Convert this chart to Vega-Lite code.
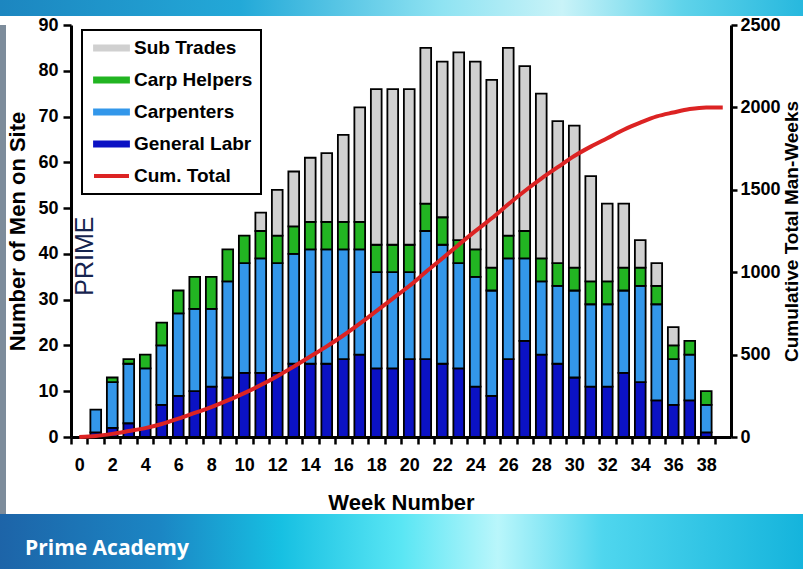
{
  "$schema": "https://vega.github.io/schema/vega-lite/v6.json",
  "padding": 0,
  "spacing": 0,
  "background": "white",
  "config": {
    "view": {"stroke": null},
    "font": "Liberation Sans",
    "axis": {
      "grid": false,
      "domainColor": "black",
      "domainWidth": 3,
      "tickColor": "black",
      "tickWidth": 2.5,
      "labelColor": "black",
      "labelFont": "Liberation Sans",
      "labelFontWeight": "bold",
      "labelFontSize": 18,
      "titleColor": "black",
      "titleFont": "Liberation Sans",
      "titleFontWeight": "bold",
      "titleFontSize": 22
    }
  },
  "vconcat": [
    {
      "width": 803,
      "height": 16,
      "data": {"values": [{"part": "top"}]},
      "mark": {
        "type": "rect",
        "fill": {
          "gradient": "linear",
          "x1": 0, "y1": 0, "x2": 1, "y2": 0,
          "stops": [
            {"offset": 0, "color": "#1c86c0"},
            {"offset": 0.3, "color": "#23a9d8"},
            {"offset": 0.55, "color": "#8fe3f2"},
            {"offset": 0.7, "color": "#c9f3f8"},
            {"offset": 0.85, "color": "#5fd3ea"},
            {"offset": 1, "color": "#27b8de"}
          ]
        }
      }
    },
    {
      "spacing": 0,
      "hconcat": [
        {
          "width": 6,
          "height": 489,
          "data": {"values": [{"part": "edge"}]},
          "mark": {"type": "rect", "fill": "#7d8c9b"}
        },
        {
          "width": 660,
          "height": 412,
          "resolve": {"scale": {"y": "independent"}},
          "layer": [
            {
              "data": {
                "values": [
                  {"week": 1, "trade": "General Labr", "men": 1},
                  {"week": 1, "trade": "Carpenters", "men": 5},
                  {"week": 2, "trade": "General Labr", "men": 2},
                  {"week": 2, "trade": "Carpenters", "men": 10},
                  {"week": 2, "trade": "Carp Helpers", "men": 1},
                  {"week": 3, "trade": "General Labr", "men": 3},
                  {"week": 3, "trade": "Carpenters", "men": 13},
                  {"week": 3, "trade": "Carp Helpers", "men": 1},
                  {"week": 4, "trade": "General Labr", "men": 2},
                  {"week": 4, "trade": "Carpenters", "men": 13},
                  {"week": 4, "trade": "Carp Helpers", "men": 3},
                  {"week": 5, "trade": "General Labr", "men": 7},
                  {"week": 5, "trade": "Carpenters", "men": 13},
                  {"week": 5, "trade": "Carp Helpers", "men": 5},
                  {"week": 6, "trade": "General Labr", "men": 9},
                  {"week": 6, "trade": "Carpenters", "men": 18},
                  {"week": 6, "trade": "Carp Helpers", "men": 5},
                  {"week": 7, "trade": "General Labr", "men": 10},
                  {"week": 7, "trade": "Carpenters", "men": 18},
                  {"week": 7, "trade": "Carp Helpers", "men": 7},
                  {"week": 8, "trade": "General Labr", "men": 11},
                  {"week": 8, "trade": "Carpenters", "men": 17},
                  {"week": 8, "trade": "Carp Helpers", "men": 7},
                  {"week": 9, "trade": "General Labr", "men": 13},
                  {"week": 9, "trade": "Carpenters", "men": 21},
                  {"week": 9, "trade": "Carp Helpers", "men": 7},
                  {"week": 10, "trade": "General Labr", "men": 14},
                  {"week": 10, "trade": "Carpenters", "men": 24},
                  {"week": 10, "trade": "Carp Helpers", "men": 6},
                  {"week": 11, "trade": "General Labr", "men": 14},
                  {"week": 11, "trade": "Carpenters", "men": 25},
                  {"week": 11, "trade": "Carp Helpers", "men": 6},
                  {"week": 11, "trade": "Sub Trades", "men": 4},
                  {"week": 12, "trade": "General Labr", "men": 14},
                  {"week": 12, "trade": "Carpenters", "men": 24},
                  {"week": 12, "trade": "Carp Helpers", "men": 6},
                  {"week": 12, "trade": "Sub Trades", "men": 10},
                  {"week": 13, "trade": "General Labr", "men": 16},
                  {"week": 13, "trade": "Carpenters", "men": 24},
                  {"week": 13, "trade": "Carp Helpers", "men": 6},
                  {"week": 13, "trade": "Sub Trades", "men": 12},
                  {"week": 14, "trade": "General Labr", "men": 16},
                  {"week": 14, "trade": "Carpenters", "men": 25},
                  {"week": 14, "trade": "Carp Helpers", "men": 6},
                  {"week": 14, "trade": "Sub Trades", "men": 14},
                  {"week": 15, "trade": "General Labr", "men": 16},
                  {"week": 15, "trade": "Carpenters", "men": 25},
                  {"week": 15, "trade": "Carp Helpers", "men": 6},
                  {"week": 15, "trade": "Sub Trades", "men": 15},
                  {"week": 16, "trade": "General Labr", "men": 17},
                  {"week": 16, "trade": "Carpenters", "men": 24},
                  {"week": 16, "trade": "Carp Helpers", "men": 6},
                  {"week": 16, "trade": "Sub Trades", "men": 19},
                  {"week": 17, "trade": "General Labr", "men": 18},
                  {"week": 17, "trade": "Carpenters", "men": 23},
                  {"week": 17, "trade": "Carp Helpers", "men": 6},
                  {"week": 17, "trade": "Sub Trades", "men": 25},
                  {"week": 18, "trade": "General Labr", "men": 15},
                  {"week": 18, "trade": "Carpenters", "men": 21},
                  {"week": 18, "trade": "Carp Helpers", "men": 6},
                  {"week": 18, "trade": "Sub Trades", "men": 34},
                  {"week": 19, "trade": "General Labr", "men": 15},
                  {"week": 19, "trade": "Carpenters", "men": 21},
                  {"week": 19, "trade": "Carp Helpers", "men": 6},
                  {"week": 19, "trade": "Sub Trades", "men": 34},
                  {"week": 20, "trade": "General Labr", "men": 17},
                  {"week": 20, "trade": "Carpenters", "men": 19},
                  {"week": 20, "trade": "Carp Helpers", "men": 6},
                  {"week": 20, "trade": "Sub Trades", "men": 34},
                  {"week": 21, "trade": "General Labr", "men": 17},
                  {"week": 21, "trade": "Carpenters", "men": 28},
                  {"week": 21, "trade": "Carp Helpers", "men": 6},
                  {"week": 21, "trade": "Sub Trades", "men": 34},
                  {"week": 22, "trade": "General Labr", "men": 16},
                  {"week": 22, "trade": "Carpenters", "men": 26},
                  {"week": 22, "trade": "Carp Helpers", "men": 6},
                  {"week": 22, "trade": "Sub Trades", "men": 34},
                  {"week": 23, "trade": "General Labr", "men": 15},
                  {"week": 23, "trade": "Carpenters", "men": 23},
                  {"week": 23, "trade": "Carp Helpers", "men": 5},
                  {"week": 23, "trade": "Sub Trades", "men": 41},
                  {"week": 24, "trade": "General Labr", "men": 11},
                  {"week": 24, "trade": "Carpenters", "men": 24},
                  {"week": 24, "trade": "Carp Helpers", "men": 6},
                  {"week": 24, "trade": "Sub Trades", "men": 41},
                  {"week": 25, "trade": "General Labr", "men": 9},
                  {"week": 25, "trade": "Carpenters", "men": 23},
                  {"week": 25, "trade": "Carp Helpers", "men": 5},
                  {"week": 25, "trade": "Sub Trades", "men": 41},
                  {"week": 26, "trade": "General Labr", "men": 17},
                  {"week": 26, "trade": "Carpenters", "men": 22},
                  {"week": 26, "trade": "Carp Helpers", "men": 5},
                  {"week": 26, "trade": "Sub Trades", "men": 41},
                  {"week": 27, "trade": "General Labr", "men": 21},
                  {"week": 27, "trade": "Carpenters", "men": 18},
                  {"week": 27, "trade": "Carp Helpers", "men": 6},
                  {"week": 27, "trade": "Sub Trades", "men": 36},
                  {"week": 28, "trade": "General Labr", "men": 18},
                  {"week": 28, "trade": "Carpenters", "men": 16},
                  {"week": 28, "trade": "Carp Helpers", "men": 5},
                  {"week": 28, "trade": "Sub Trades", "men": 36},
                  {"week": 29, "trade": "General Labr", "men": 16},
                  {"week": 29, "trade": "Carpenters", "men": 17},
                  {"week": 29, "trade": "Carp Helpers", "men": 5},
                  {"week": 29, "trade": "Sub Trades", "men": 31},
                  {"week": 30, "trade": "General Labr", "men": 13},
                  {"week": 30, "trade": "Carpenters", "men": 19},
                  {"week": 30, "trade": "Carp Helpers", "men": 5},
                  {"week": 30, "trade": "Sub Trades", "men": 31},
                  {"week": 31, "trade": "General Labr", "men": 11},
                  {"week": 31, "trade": "Carpenters", "men": 18},
                  {"week": 31, "trade": "Carp Helpers", "men": 5},
                  {"week": 31, "trade": "Sub Trades", "men": 23},
                  {"week": 32, "trade": "General Labr", "men": 11},
                  {"week": 32, "trade": "Carpenters", "men": 18},
                  {"week": 32, "trade": "Carp Helpers", "men": 5},
                  {"week": 32, "trade": "Sub Trades", "men": 17},
                  {"week": 33, "trade": "General Labr", "men": 14},
                  {"week": 33, "trade": "Carpenters", "men": 18},
                  {"week": 33, "trade": "Carp Helpers", "men": 5},
                  {"week": 33, "trade": "Sub Trades", "men": 14},
                  {"week": 34, "trade": "General Labr", "men": 12},
                  {"week": 34, "trade": "Carpenters", "men": 21},
                  {"week": 34, "trade": "Carp Helpers", "men": 4},
                  {"week": 34, "trade": "Sub Trades", "men": 6},
                  {"week": 35, "trade": "General Labr", "men": 8},
                  {"week": 35, "trade": "Carpenters", "men": 21},
                  {"week": 35, "trade": "Carp Helpers", "men": 4},
                  {"week": 35, "trade": "Sub Trades", "men": 5},
                  {"week": 36, "trade": "General Labr", "men": 7},
                  {"week": 36, "trade": "Carpenters", "men": 10},
                  {"week": 36, "trade": "Carp Helpers", "men": 3},
                  {"week": 36, "trade": "Sub Trades", "men": 4},
                  {"week": 37, "trade": "General Labr", "men": 8},
                  {"week": 37, "trade": "Carpenters", "men": 10},
                  {"week": 37, "trade": "Carp Helpers", "men": 3},
                  {"week": 38, "trade": "General Labr", "men": 1},
                  {"week": 38, "trade": "Carpenters", "men": 6},
                  {"week": 38, "trade": "Carp Helpers", "men": 3}
                ]
              },
              "transform": [
                {"calculate": "indexof(['General Labr', 'Carpenters', 'Carp Helpers', 'Sub Trades'], datum.trade)", "as": "stackRank"}
              ],
              "mark": {"type": "bar", "stroke": "black", "strokeWidth": 1.8},
              "encoding": {
                "x": {
                  "field": "week",
                  "type": "ordinal",
                  "scale": {
                    "domain": [0, 1, 2, 3, 4, 5, 6, 7, 8, 9, 10, 11, 12, 13, 14, 15, 16, 17, 18, 19, 20, 21, 22, 23, 24, 25, 26, 27, 28, 29, 30, 31, 32, 33, 34, 35, 36, 37, 38, 39],
                    "paddingInner": 0.35,
                    "paddingOuter": 0.175
                  },
                  "axis": {
                    "title": "Week Number",
                    "labelAngle": 0,
                    "labelExpr": "datum.value % 2 === 0 ? datum.label : ''",
                    "tickSize": 7,
                    "tickOffset": -8.25,
                    "labelOffset": 8.25,
                    "labelPadding": 12,
                    "titlePadding": 18
                  }
                },
                "y": {
                  "field": "men",
                  "type": "quantitative",
                  "stack": "zero",
                  "scale": {"domain": [0, 90], "nice": false},
                  "axis": {
                    "title": "Number of Men on Site",
                    "values": [0, 10, 20, 30, 40, 50, 60, 70, 80, 90],
                    "tickSize": 8,
                    "labelPadding": 5,
                    "titlePadding": 8
                  }
                },
                "order": {"field": "stackRank", "type": "quantitative", "sort": "ascending"},
                "color": {
                  "field": "trade",
                  "type": "nominal",
                  "scale": {
                    "domain": ["Sub Trades", "Carp Helpers", "Carpenters", "General Labr", "Cum. Total"],
                    "range": ["#d0d0d0", "#22b522", "#3397ea", "#0b12c4", "#dc2323"]
                  },
                  "legend": {
                    "title": null,
                    "orient": "none",
                    "legendX": 82,
                    "legendY": 30,
                    "padding": 8,
                    "fillColor": "white",
                    "strokeColor": "black",
                    "labelFont": "Liberation Sans",
                    "labelFontSize": 19,
                    "labelFontWeight": "bold",
                    "labelColor": "black",
                    "symbolType": "M-1,-0.15H1V0.15H-1Z",
                    "symbolSize": 1225,
                    "symbolOffset": 12,
                    "symbolStrokeColor": "black",
                    "symbolStrokeWidth": 1.8,
                    "clipHeight": 20,
                    "rowPadding": 12,
                    "labelOffset": 13,
                    "encoding": {
                      "legend": {"strokeWidth": {"value": 2}},
                      "symbols": {
                        "shape": {"value": {"expr": "datum.value === 'Cum. Total' ? 'stroke' : 'M-1,-0.15H1V0.15H-1Z'"}},
                        "fill": {"value": {"expr": "datum.value === 'Cum. Total' ? 'transparent' : scale('color', datum.value)"}},
                        "stroke": {"value": {"expr": "datum.value === 'Cum. Total' ? '#dc2323' : 'black'"}},
                        "strokeWidth": {"value": {"expr": "datum.value === 'Cum. Total' ? 4 : 1.8"}},
                        "opacity": {"value": 1}
                      }
                    }
                  }
                }
              }
            },
            {
              "data": {
                "values": [
                  {"week": 0, "cum": 0}, {"week": 1, "cum": 6}, {"week": 2, "cum": 19}, {"week": 3, "cum": 36},
                  {"week": 4, "cum": 54}, {"week": 5, "cum": 79}, {"week": 6, "cum": 111}, {"week": 7, "cum": 146},
                  {"week": 8, "cum": 181}, {"week": 9, "cum": 222}, {"week": 10, "cum": 266}, {"week": 11, "cum": 315},
                  {"week": 12, "cum": 369}, {"week": 13, "cum": 427}, {"week": 14, "cum": 488}, {"week": 15, "cum": 550},
                  {"week": 16, "cum": 616}, {"week": 17, "cum": 688}, {"week": 18, "cum": 764}, {"week": 19, "cum": 840},
                  {"week": 20, "cum": 916}, {"week": 21, "cum": 1001}, {"week": 22, "cum": 1083}, {"week": 23, "cum": 1167},
                  {"week": 24, "cum": 1249}, {"week": 25, "cum": 1327}, {"week": 26, "cum": 1412}, {"week": 27, "cum": 1493},
                  {"week": 28, "cum": 1568}, {"week": 29, "cum": 1637}, {"week": 30, "cum": 1705}, {"week": 31, "cum": 1762},
                  {"week": 32, "cum": 1813}, {"week": 33, "cum": 1864}, {"week": 34, "cum": 1907}, {"week": 35, "cum": 1945},
                  {"week": 36, "cum": 1969}, {"week": 37, "cum": 1990}, {"week": 38, "cum": 2000}, {"week": 39, "cum": 2000}
                ]
              },
              "mark": {"type": "line", "interpolate": "monotone", "strokeWidth": 4},
              "encoding": {
                "x": {"field": "week", "type": "ordinal"},
                "y": {
                  "field": "cum",
                  "type": "quantitative",
                  "scale": {"domain": [0, 2500], "nice": false},
                  "axis": {
                    "orient": "right",
                    "title": "Cumulative Total Man-Weeks",
                    "format": "d",
                    "values": [0, 500, 1000, 1500, 2000, 2500],
                    "tickSize": 6,
                    "labelPadding": 3,
                    "titlePadding": 2,
                    "titleFontSize": 19,
                    "titleAngle": 270,
                    "titleBaseline": "top"
                  }
                },
                "color": {"datum": "Cum. Total"}
              }
            },
            {
              "data": {"values": [{"logo": "PRIME"}]},
              "mark": {"type": "text", "angle": 270, "font": "Liberation Sans", "fontSize": 25, "fontWeight": "normal", "color": "#16244f", "dy": 6},
              "encoding": {
                "x": {"datum": 0, "type": "ordinal"},
                "y": {"datum": 39.5, "type": "quantitative", "scale": {"domain": [0, 90], "nice": false}, "axis": null},
                "text": {"field": "logo"}
              }
            }
          ]
        }
      ]
    },
    {
      "width": 803,
      "height": 55,
      "data": {"values": [{"part": "bottom"}]},
      "mark": {
        "type": "rect",
        "fill": {
          "gradient": "linear",
          "x1": 0, "y1": 0, "x2": 1, "y2": 0,
          "stops": [
            {"offset": 0, "color": "#1d64a8"},
            {"offset": 0.2, "color": "#1b86c4"},
            {"offset": 0.35, "color": "#17c0e2"},
            {"offset": 0.5, "color": "#5ae6f4"},
            {"offset": 0.62, "color": "#b9f6fb"},
            {"offset": 0.75, "color": "#4fd6ee"},
            {"offset": 1, "color": "#15b4dc"}
          ]
        }
      },
      "title": {
        "text": "Prime Academy",
        "orient": "bottom",
        "anchor": "start",
        "frame": "group",
        "offset": -31,
        "dx": 25,
        "color": "white",
        "font": "Open Sans",
        "fontSize": 21,
        "fontWeight": "bold"
      }
    }
  ]
}
